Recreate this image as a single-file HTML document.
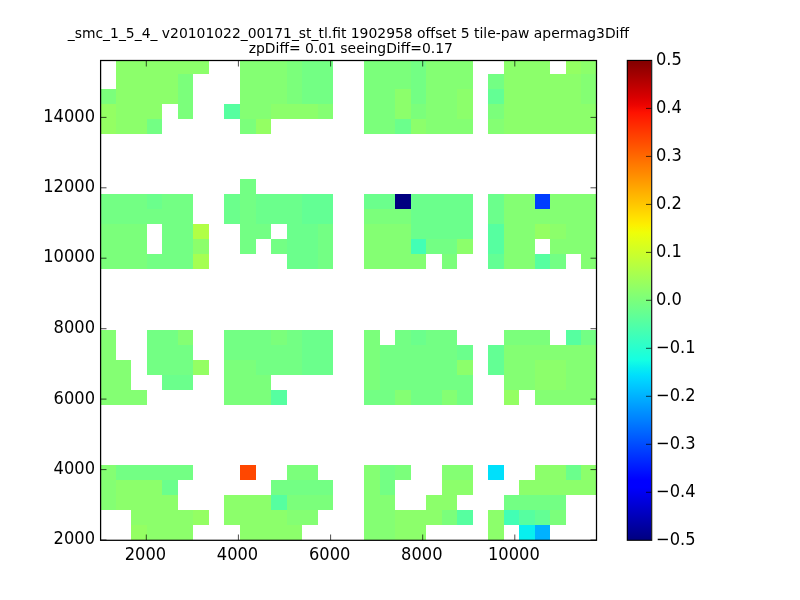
<!DOCTYPE html>
<html><head><meta charset="utf-8"><title>plot</title>
<style>
html,body{margin:0;padding:0;background:#fff;}
body{width:800px;height:600px;overflow:hidden;position:relative;font-family:"DejaVu Sans","Liberation Sans",sans-serif;}
svg{position:absolute;left:0;top:0;}
.tk{font-size:17.7px;fill:#000;}
.tt{font-size:13.9px;fill:#000;}
text{font-family:"DejaVu Sans","Liberation Sans",sans-serif;}
</style></head><body>
<svg width="800" height="600" viewBox="0 0 800 600">
<defs><linearGradient id="jet" x1="0" y1="0" x2="0" y2="1">
<stop offset="0.0000" stop-color="#800000"/>
<stop offset="0.0156" stop-color="#920000"/>
<stop offset="0.0312" stop-color="#a40000"/>
<stop offset="0.0469" stop-color="#b60000"/>
<stop offset="0.0625" stop-color="#c80000"/>
<stop offset="0.0781" stop-color="#da0000"/>
<stop offset="0.0938" stop-color="#ec0400"/>
<stop offset="0.1094" stop-color="#fe1200"/>
<stop offset="0.1250" stop-color="#ff2100"/>
<stop offset="0.1406" stop-color="#ff3000"/>
<stop offset="0.1562" stop-color="#ff3f00"/>
<stop offset="0.1719" stop-color="#ff4d00"/>
<stop offset="0.1875" stop-color="#ff5c00"/>
<stop offset="0.2031" stop-color="#ff6b00"/>
<stop offset="0.2188" stop-color="#ff7a00"/>
<stop offset="0.2344" stop-color="#ff8800"/>
<stop offset="0.2500" stop-color="#ff9700"/>
<stop offset="0.2656" stop-color="#ffa600"/>
<stop offset="0.2812" stop-color="#ffb500"/>
<stop offset="0.2969" stop-color="#ffc300"/>
<stop offset="0.3125" stop-color="#ffd200"/>
<stop offset="0.3281" stop-color="#ffe100"/>
<stop offset="0.3438" stop-color="#fcf000"/>
<stop offset="0.3594" stop-color="#effe08"/>
<stop offset="0.3750" stop-color="#e2ff15"/>
<stop offset="0.3906" stop-color="#d5ff21"/>
<stop offset="0.4062" stop-color="#c9ff2e"/>
<stop offset="0.4219" stop-color="#bcff3b"/>
<stop offset="0.4375" stop-color="#afff48"/>
<stop offset="0.4531" stop-color="#a2ff55"/>
<stop offset="0.4688" stop-color="#95ff62"/>
<stop offset="0.4844" stop-color="#88ff6f"/>
<stop offset="0.5000" stop-color="#7bff7b"/>
<stop offset="0.5156" stop-color="#6fff88"/>
<stop offset="0.5312" stop-color="#62ff95"/>
<stop offset="0.5469" stop-color="#55ffa2"/>
<stop offset="0.5625" stop-color="#48ffaf"/>
<stop offset="0.5781" stop-color="#3bffbc"/>
<stop offset="0.5938" stop-color="#2effc9"/>
<stop offset="0.6094" stop-color="#21ffd5"/>
<stop offset="0.6250" stop-color="#15ffe2"/>
<stop offset="0.6406" stop-color="#08efef"/>
<stop offset="0.6562" stop-color="#00dffc"/>
<stop offset="0.6719" stop-color="#00cfff"/>
<stop offset="0.6875" stop-color="#00bfff"/>
<stop offset="0.7031" stop-color="#00afff"/>
<stop offset="0.7188" stop-color="#009fff"/>
<stop offset="0.7344" stop-color="#008fff"/>
<stop offset="0.7500" stop-color="#0080ff"/>
<stop offset="0.7656" stop-color="#0070ff"/>
<stop offset="0.7812" stop-color="#0060ff"/>
<stop offset="0.7969" stop-color="#0050ff"/>
<stop offset="0.8125" stop-color="#0040ff"/>
<stop offset="0.8281" stop-color="#0030ff"/>
<stop offset="0.8438" stop-color="#0020ff"/>
<stop offset="0.8594" stop-color="#0010ff"/>
<stop offset="0.8750" stop-color="#0000ff"/>
<stop offset="0.8906" stop-color="#0000fe"/>
<stop offset="0.9062" stop-color="#0000ec"/>
<stop offset="0.9219" stop-color="#0000da"/>
<stop offset="0.9375" stop-color="#0000c8"/>
<stop offset="0.9531" stop-color="#0000b6"/>
<stop offset="0.9688" stop-color="#0000a4"/>
<stop offset="0.9844" stop-color="#000092"/>
<stop offset="1.0000" stop-color="#000080"/>
</linearGradient></defs>
<rect x="0" y="0" width="800" height="600" fill="#ffffff"/>
<clipPath id="ax"><rect x="100.6" y="60.5" width="495.9" height="479.8"/></clipPath>
<g shape-rendering="crispEdges" clip-path="url(#ax)">
<rect x="115.91" y="60.00" width="15.51" height="13.94" fill="#8cff6b"/>
<rect x="131.42" y="60.00" width="15.51" height="13.94" fill="#8cff6b"/>
<rect x="146.93" y="60.00" width="15.51" height="13.94" fill="#8cff6b"/>
<rect x="162.44" y="60.00" width="15.51" height="13.94" fill="#8cff6b"/>
<rect x="177.95" y="60.00" width="15.51" height="13.94" fill="#8cff6b"/>
<rect x="193.46" y="60.00" width="15.51" height="13.94" fill="#8cff6b"/>
<rect x="239.99" y="60.00" width="15.51" height="13.94" fill="#84ff73"/>
<rect x="255.50" y="60.00" width="15.51" height="13.94" fill="#84ff73"/>
<rect x="271.01" y="60.00" width="15.51" height="13.94" fill="#84ff73"/>
<rect x="286.52" y="60.00" width="15.51" height="13.94" fill="#7bff7b"/>
<rect x="302.03" y="60.00" width="15.51" height="13.94" fill="#73ff84"/>
<rect x="317.54" y="60.00" width="15.51" height="13.94" fill="#73ff84"/>
<rect x="364.07" y="60.00" width="15.51" height="13.94" fill="#7bff7b"/>
<rect x="379.58" y="60.00" width="15.51" height="13.94" fill="#7bff7b"/>
<rect x="395.09" y="60.00" width="15.51" height="13.94" fill="#7bff7b"/>
<rect x="410.60" y="60.00" width="15.51" height="13.94" fill="#73ff84"/>
<rect x="426.11" y="60.00" width="15.51" height="13.94" fill="#84ff73"/>
<rect x="441.62" y="60.00" width="15.51" height="13.94" fill="#84ff73"/>
<rect x="457.13" y="60.00" width="15.51" height="13.94" fill="#84ff73"/>
<rect x="503.66" y="60.00" width="15.51" height="13.94" fill="#8cff6b"/>
<rect x="519.17" y="60.00" width="15.51" height="13.94" fill="#8cff6b"/>
<rect x="534.68" y="60.00" width="15.51" height="13.94" fill="#8cff6b"/>
<rect x="565.70" y="60.00" width="15.51" height="13.94" fill="#94ff63"/>
<rect x="581.21" y="60.00" width="15.51" height="13.94" fill="#8cff6b"/>
<rect x="115.91" y="73.94" width="15.51" height="15.04" fill="#8cff6b"/>
<rect x="131.42" y="73.94" width="15.51" height="15.04" fill="#8cff6b"/>
<rect x="146.93" y="73.94" width="15.51" height="15.04" fill="#8cff6b"/>
<rect x="162.44" y="73.94" width="15.51" height="15.04" fill="#8cff6b"/>
<rect x="177.95" y="73.94" width="15.51" height="15.04" fill="#7bff7b"/>
<rect x="239.99" y="73.94" width="15.51" height="15.04" fill="#84ff73"/>
<rect x="255.50" y="73.94" width="15.51" height="15.04" fill="#84ff73"/>
<rect x="271.01" y="73.94" width="15.51" height="15.04" fill="#84ff73"/>
<rect x="286.52" y="73.94" width="15.51" height="15.04" fill="#7bff7b"/>
<rect x="302.03" y="73.94" width="15.51" height="15.04" fill="#73ff84"/>
<rect x="317.54" y="73.94" width="15.51" height="15.04" fill="#73ff84"/>
<rect x="364.07" y="73.94" width="15.51" height="15.04" fill="#7bff7b"/>
<rect x="379.58" y="73.94" width="15.51" height="15.04" fill="#7bff7b"/>
<rect x="395.09" y="73.94" width="15.51" height="15.04" fill="#7bff7b"/>
<rect x="410.60" y="73.94" width="15.51" height="15.04" fill="#73ff84"/>
<rect x="426.11" y="73.94" width="15.51" height="15.04" fill="#84ff73"/>
<rect x="441.62" y="73.94" width="15.51" height="15.04" fill="#84ff73"/>
<rect x="457.13" y="73.94" width="15.51" height="15.04" fill="#84ff73"/>
<rect x="488.15" y="73.94" width="15.51" height="15.04" fill="#73ff84"/>
<rect x="503.66" y="73.94" width="15.51" height="15.04" fill="#8cff6b"/>
<rect x="519.17" y="73.94" width="15.51" height="15.04" fill="#8cff6b"/>
<rect x="534.68" y="73.94" width="15.51" height="15.04" fill="#8cff6b"/>
<rect x="550.19" y="73.94" width="15.51" height="15.04" fill="#8cff6b"/>
<rect x="565.70" y="73.94" width="15.51" height="15.04" fill="#8cff6b"/>
<rect x="581.21" y="73.94" width="15.51" height="15.04" fill="#84ff73"/>
<rect x="100.40" y="88.98" width="15.51" height="15.04" fill="#7bff7b"/>
<rect x="115.91" y="88.98" width="15.51" height="15.04" fill="#8cff6b"/>
<rect x="131.42" y="88.98" width="15.51" height="15.04" fill="#8cff6b"/>
<rect x="146.93" y="88.98" width="15.51" height="15.04" fill="#8cff6b"/>
<rect x="162.44" y="88.98" width="15.51" height="15.04" fill="#8cff6b"/>
<rect x="177.95" y="88.98" width="15.51" height="15.04" fill="#7bff7b"/>
<rect x="239.99" y="88.98" width="15.51" height="15.04" fill="#84ff73"/>
<rect x="255.50" y="88.98" width="15.51" height="15.04" fill="#84ff73"/>
<rect x="271.01" y="88.98" width="15.51" height="15.04" fill="#84ff73"/>
<rect x="286.52" y="88.98" width="15.51" height="15.04" fill="#7bff7b"/>
<rect x="302.03" y="88.98" width="15.51" height="15.04" fill="#73ff84"/>
<rect x="317.54" y="88.98" width="15.51" height="15.04" fill="#73ff84"/>
<rect x="364.07" y="88.98" width="15.51" height="15.04" fill="#7bff7b"/>
<rect x="379.58" y="88.98" width="15.51" height="15.04" fill="#7bff7b"/>
<rect x="395.09" y="88.98" width="15.51" height="15.04" fill="#8cff6b"/>
<rect x="410.60" y="88.98" width="15.51" height="15.04" fill="#73ff84"/>
<rect x="426.11" y="88.98" width="15.51" height="15.04" fill="#84ff73"/>
<rect x="441.62" y="88.98" width="15.51" height="15.04" fill="#84ff73"/>
<rect x="457.13" y="88.98" width="15.51" height="15.04" fill="#8cff6b"/>
<rect x="488.15" y="88.98" width="15.51" height="15.04" fill="#63ff94"/>
<rect x="503.66" y="88.98" width="15.51" height="15.04" fill="#8cff6b"/>
<rect x="519.17" y="88.98" width="15.51" height="15.04" fill="#8cff6b"/>
<rect x="534.68" y="88.98" width="15.51" height="15.04" fill="#8cff6b"/>
<rect x="550.19" y="88.98" width="15.51" height="15.04" fill="#8cff6b"/>
<rect x="565.70" y="88.98" width="15.51" height="15.04" fill="#8cff6b"/>
<rect x="581.21" y="88.98" width="15.51" height="15.04" fill="#84ff73"/>
<rect x="100.40" y="104.02" width="15.51" height="15.04" fill="#94ff63"/>
<rect x="115.91" y="104.02" width="15.51" height="15.04" fill="#8cff6b"/>
<rect x="131.42" y="104.02" width="15.51" height="15.04" fill="#8cff6b"/>
<rect x="146.93" y="104.02" width="15.51" height="15.04" fill="#8cff6b"/>
<rect x="177.95" y="104.02" width="15.51" height="15.04" fill="#7bff7b"/>
<rect x="224.48" y="104.02" width="15.51" height="15.04" fill="#56ffa0"/>
<rect x="239.99" y="104.02" width="15.51" height="15.04" fill="#84ff73"/>
<rect x="255.50" y="104.02" width="15.51" height="15.04" fill="#84ff73"/>
<rect x="271.01" y="104.02" width="15.51" height="15.04" fill="#8cff6b"/>
<rect x="286.52" y="104.02" width="15.51" height="15.04" fill="#8cff6b"/>
<rect x="302.03" y="104.02" width="15.51" height="15.04" fill="#8cff6b"/>
<rect x="317.54" y="104.02" width="15.51" height="15.04" fill="#84ff73"/>
<rect x="364.07" y="104.02" width="15.51" height="15.04" fill="#7bff7b"/>
<rect x="379.58" y="104.02" width="15.51" height="15.04" fill="#7bff7b"/>
<rect x="395.09" y="104.02" width="15.51" height="15.04" fill="#8cff6b"/>
<rect x="410.60" y="104.02" width="15.51" height="15.04" fill="#7bff7b"/>
<rect x="426.11" y="104.02" width="15.51" height="15.04" fill="#84ff73"/>
<rect x="441.62" y="104.02" width="15.51" height="15.04" fill="#84ff73"/>
<rect x="457.13" y="104.02" width="15.51" height="15.04" fill="#8cff6b"/>
<rect x="488.15" y="104.02" width="15.51" height="15.04" fill="#7bff7b"/>
<rect x="503.66" y="104.02" width="15.51" height="15.04" fill="#8cff6b"/>
<rect x="519.17" y="104.02" width="15.51" height="15.04" fill="#8cff6b"/>
<rect x="534.68" y="104.02" width="15.51" height="15.04" fill="#8cff6b"/>
<rect x="550.19" y="104.02" width="15.51" height="15.04" fill="#8cff6b"/>
<rect x="565.70" y="104.02" width="15.51" height="15.04" fill="#8cff6b"/>
<rect x="581.21" y="104.02" width="15.51" height="15.04" fill="#8cff6b"/>
<rect x="100.40" y="119.06" width="15.51" height="15.04" fill="#94ff63"/>
<rect x="115.91" y="119.06" width="15.51" height="15.04" fill="#8cff6b"/>
<rect x="131.42" y="119.06" width="15.51" height="15.04" fill="#8cff6b"/>
<rect x="146.93" y="119.06" width="15.51" height="15.04" fill="#73ff84"/>
<rect x="239.99" y="119.06" width="15.51" height="15.04" fill="#7bff7b"/>
<rect x="255.50" y="119.06" width="15.51" height="15.04" fill="#94ff63"/>
<rect x="364.07" y="119.06" width="15.51" height="15.04" fill="#7bff7b"/>
<rect x="379.58" y="119.06" width="15.51" height="15.04" fill="#7bff7b"/>
<rect x="395.09" y="119.06" width="15.51" height="15.04" fill="#6bff8c"/>
<rect x="410.60" y="119.06" width="15.51" height="15.04" fill="#8cff6b"/>
<rect x="426.11" y="119.06" width="15.51" height="15.04" fill="#84ff73"/>
<rect x="441.62" y="119.06" width="15.51" height="15.04" fill="#84ff73"/>
<rect x="457.13" y="119.06" width="15.51" height="15.04" fill="#84ff73"/>
<rect x="488.15" y="119.06" width="15.51" height="15.04" fill="#84ff73"/>
<rect x="503.66" y="119.06" width="15.51" height="15.04" fill="#8cff6b"/>
<rect x="519.17" y="119.06" width="15.51" height="15.04" fill="#8cff6b"/>
<rect x="534.68" y="119.06" width="15.51" height="15.04" fill="#8cff6b"/>
<rect x="550.19" y="119.06" width="15.51" height="15.04" fill="#8cff6b"/>
<rect x="565.70" y="119.06" width="15.51" height="15.04" fill="#8cff6b"/>
<rect x="581.21" y="119.06" width="15.51" height="15.04" fill="#8cff6b"/>
<rect x="239.99" y="179.22" width="15.51" height="15.04" fill="#73ff84"/>
<rect x="100.40" y="194.26" width="15.51" height="15.04" fill="#73ff84"/>
<rect x="115.91" y="194.26" width="15.51" height="15.04" fill="#73ff84"/>
<rect x="131.42" y="194.26" width="15.51" height="15.04" fill="#73ff84"/>
<rect x="146.93" y="194.26" width="15.51" height="15.04" fill="#6bff8c"/>
<rect x="162.44" y="194.26" width="15.51" height="15.04" fill="#73ff84"/>
<rect x="177.95" y="194.26" width="15.51" height="15.04" fill="#73ff84"/>
<rect x="224.48" y="194.26" width="15.51" height="15.04" fill="#6bff8c"/>
<rect x="239.99" y="194.26" width="15.51" height="15.04" fill="#73ff84"/>
<rect x="255.50" y="194.26" width="15.51" height="15.04" fill="#6bff8c"/>
<rect x="271.01" y="194.26" width="15.51" height="15.04" fill="#6bff8c"/>
<rect x="286.52" y="194.26" width="15.51" height="15.04" fill="#6bff8c"/>
<rect x="302.03" y="194.26" width="15.51" height="15.04" fill="#63ff94"/>
<rect x="317.54" y="194.26" width="15.51" height="15.04" fill="#63ff94"/>
<rect x="364.07" y="194.26" width="15.51" height="15.04" fill="#6bff8c"/>
<rect x="379.58" y="194.26" width="15.51" height="15.04" fill="#6bff8c"/>
<rect x="395.09" y="194.26" width="15.51" height="15.04" fill="#000080"/>
<rect x="410.60" y="194.26" width="15.51" height="15.04" fill="#6bff8c"/>
<rect x="426.11" y="194.26" width="15.51" height="15.04" fill="#6bff8c"/>
<rect x="441.62" y="194.26" width="15.51" height="15.04" fill="#6bff8c"/>
<rect x="457.13" y="194.26" width="15.51" height="15.04" fill="#6bff8c"/>
<rect x="488.15" y="194.26" width="15.51" height="15.04" fill="#6bff8c"/>
<rect x="503.66" y="194.26" width="15.51" height="15.04" fill="#84ff73"/>
<rect x="519.17" y="194.26" width="15.51" height="15.04" fill="#84ff73"/>
<rect x="534.68" y="194.26" width="15.51" height="15.04" fill="#003dff"/>
<rect x="550.19" y="194.26" width="15.51" height="15.04" fill="#84ff73"/>
<rect x="565.70" y="194.26" width="15.51" height="15.04" fill="#84ff73"/>
<rect x="581.21" y="194.26" width="15.51" height="15.04" fill="#84ff73"/>
<rect x="100.40" y="209.30" width="15.51" height="15.04" fill="#73ff84"/>
<rect x="115.91" y="209.30" width="15.51" height="15.04" fill="#73ff84"/>
<rect x="131.42" y="209.30" width="15.51" height="15.04" fill="#73ff84"/>
<rect x="146.93" y="209.30" width="15.51" height="15.04" fill="#73ff84"/>
<rect x="162.44" y="209.30" width="15.51" height="15.04" fill="#73ff84"/>
<rect x="177.95" y="209.30" width="15.51" height="15.04" fill="#73ff84"/>
<rect x="224.48" y="209.30" width="15.51" height="15.04" fill="#6bff8c"/>
<rect x="239.99" y="209.30" width="15.51" height="15.04" fill="#73ff84"/>
<rect x="255.50" y="209.30" width="15.51" height="15.04" fill="#6bff8c"/>
<rect x="271.01" y="209.30" width="15.51" height="15.04" fill="#6bff8c"/>
<rect x="286.52" y="209.30" width="15.51" height="15.04" fill="#6bff8c"/>
<rect x="302.03" y="209.30" width="15.51" height="15.04" fill="#63ff94"/>
<rect x="317.54" y="209.30" width="15.51" height="15.04" fill="#63ff94"/>
<rect x="364.07" y="209.30" width="15.51" height="15.04" fill="#7bff7b"/>
<rect x="379.58" y="209.30" width="15.51" height="15.04" fill="#7bff7b"/>
<rect x="395.09" y="209.30" width="15.51" height="15.04" fill="#7bff7b"/>
<rect x="410.60" y="209.30" width="15.51" height="15.04" fill="#6bff8c"/>
<rect x="426.11" y="209.30" width="15.51" height="15.04" fill="#6bff8c"/>
<rect x="441.62" y="209.30" width="15.51" height="15.04" fill="#6bff8c"/>
<rect x="457.13" y="209.30" width="15.51" height="15.04" fill="#6bff8c"/>
<rect x="488.15" y="209.30" width="15.51" height="15.04" fill="#6bff8c"/>
<rect x="503.66" y="209.30" width="15.51" height="15.04" fill="#84ff73"/>
<rect x="519.17" y="209.30" width="15.51" height="15.04" fill="#84ff73"/>
<rect x="534.68" y="209.30" width="15.51" height="15.04" fill="#84ff73"/>
<rect x="550.19" y="209.30" width="15.51" height="15.04" fill="#84ff73"/>
<rect x="565.70" y="209.30" width="15.51" height="15.04" fill="#84ff73"/>
<rect x="581.21" y="209.30" width="15.51" height="15.04" fill="#84ff73"/>
<rect x="100.40" y="224.34" width="15.51" height="15.04" fill="#7bff7b"/>
<rect x="115.91" y="224.34" width="15.51" height="15.04" fill="#7bff7b"/>
<rect x="131.42" y="224.34" width="15.51" height="15.04" fill="#7bff7b"/>
<rect x="162.44" y="224.34" width="15.51" height="15.04" fill="#73ff84"/>
<rect x="177.95" y="224.34" width="15.51" height="15.04" fill="#73ff84"/>
<rect x="193.46" y="224.34" width="15.51" height="15.04" fill="#b1ff46"/>
<rect x="239.99" y="224.34" width="15.51" height="15.04" fill="#73ff84"/>
<rect x="255.50" y="224.34" width="15.51" height="15.04" fill="#73ff84"/>
<rect x="286.52" y="224.34" width="15.51" height="15.04" fill="#6bff8c"/>
<rect x="302.03" y="224.34" width="15.51" height="15.04" fill="#6bff8c"/>
<rect x="317.54" y="224.34" width="15.51" height="15.04" fill="#73ff84"/>
<rect x="364.07" y="224.34" width="15.51" height="15.04" fill="#84ff73"/>
<rect x="379.58" y="224.34" width="15.51" height="15.04" fill="#84ff73"/>
<rect x="395.09" y="224.34" width="15.51" height="15.04" fill="#84ff73"/>
<rect x="410.60" y="224.34" width="15.51" height="15.04" fill="#6bff8c"/>
<rect x="426.11" y="224.34" width="15.51" height="15.04" fill="#6bff8c"/>
<rect x="441.62" y="224.34" width="15.51" height="15.04" fill="#6bff8c"/>
<rect x="457.13" y="224.34" width="15.51" height="15.04" fill="#6bff8c"/>
<rect x="488.15" y="224.34" width="15.51" height="15.04" fill="#56ffa0"/>
<rect x="503.66" y="224.34" width="15.51" height="15.04" fill="#84ff73"/>
<rect x="519.17" y="224.34" width="15.51" height="15.04" fill="#84ff73"/>
<rect x="534.68" y="224.34" width="15.51" height="15.04" fill="#94ff63"/>
<rect x="550.19" y="224.34" width="15.51" height="15.04" fill="#8cff6b"/>
<rect x="565.70" y="224.34" width="15.51" height="15.04" fill="#84ff73"/>
<rect x="581.21" y="224.34" width="15.51" height="15.04" fill="#84ff73"/>
<rect x="100.40" y="239.38" width="15.51" height="15.04" fill="#7bff7b"/>
<rect x="115.91" y="239.38" width="15.51" height="15.04" fill="#7bff7b"/>
<rect x="131.42" y="239.38" width="15.51" height="15.04" fill="#7bff7b"/>
<rect x="162.44" y="239.38" width="15.51" height="15.04" fill="#73ff84"/>
<rect x="177.95" y="239.38" width="15.51" height="15.04" fill="#73ff84"/>
<rect x="193.46" y="239.38" width="15.51" height="15.04" fill="#8cff6b"/>
<rect x="239.99" y="239.38" width="15.51" height="15.04" fill="#73ff84"/>
<rect x="271.01" y="239.38" width="15.51" height="15.04" fill="#73ff84"/>
<rect x="286.52" y="239.38" width="15.51" height="15.04" fill="#6bff8c"/>
<rect x="302.03" y="239.38" width="15.51" height="15.04" fill="#6bff8c"/>
<rect x="317.54" y="239.38" width="15.51" height="15.04" fill="#73ff84"/>
<rect x="364.07" y="239.38" width="15.51" height="15.04" fill="#84ff73"/>
<rect x="379.58" y="239.38" width="15.51" height="15.04" fill="#84ff73"/>
<rect x="395.09" y="239.38" width="15.51" height="15.04" fill="#84ff73"/>
<rect x="410.60" y="239.38" width="15.51" height="15.04" fill="#42ffb5"/>
<rect x="426.11" y="239.38" width="15.51" height="15.04" fill="#73ff84"/>
<rect x="441.62" y="239.38" width="15.51" height="15.04" fill="#73ff84"/>
<rect x="457.13" y="239.38" width="15.51" height="15.04" fill="#8cff6b"/>
<rect x="488.15" y="239.38" width="15.51" height="15.04" fill="#56ffa0"/>
<rect x="503.66" y="239.38" width="15.51" height="15.04" fill="#84ff73"/>
<rect x="519.17" y="239.38" width="15.51" height="15.04" fill="#84ff73"/>
<rect x="550.19" y="239.38" width="15.51" height="15.04" fill="#84ff73"/>
<rect x="565.70" y="239.38" width="15.51" height="15.04" fill="#84ff73"/>
<rect x="581.21" y="239.38" width="15.51" height="15.04" fill="#84ff73"/>
<rect x="100.40" y="254.42" width="15.51" height="15.04" fill="#7bff7b"/>
<rect x="115.91" y="254.42" width="15.51" height="15.04" fill="#7bff7b"/>
<rect x="131.42" y="254.42" width="15.51" height="15.04" fill="#7bff7b"/>
<rect x="146.93" y="254.42" width="15.51" height="15.04" fill="#73ff84"/>
<rect x="162.44" y="254.42" width="15.51" height="15.04" fill="#73ff84"/>
<rect x="177.95" y="254.42" width="15.51" height="15.04" fill="#73ff84"/>
<rect x="193.46" y="254.42" width="15.51" height="15.04" fill="#a5ff52"/>
<rect x="286.52" y="254.42" width="15.51" height="15.04" fill="#6bff8c"/>
<rect x="302.03" y="254.42" width="15.51" height="15.04" fill="#6bff8c"/>
<rect x="317.54" y="254.42" width="15.51" height="15.04" fill="#73ff84"/>
<rect x="364.07" y="254.42" width="15.51" height="15.04" fill="#84ff73"/>
<rect x="379.58" y="254.42" width="15.51" height="15.04" fill="#84ff73"/>
<rect x="395.09" y="254.42" width="15.51" height="15.04" fill="#84ff73"/>
<rect x="410.60" y="254.42" width="15.51" height="15.04" fill="#84ff73"/>
<rect x="441.62" y="254.42" width="15.51" height="15.04" fill="#7bff7b"/>
<rect x="488.15" y="254.42" width="15.51" height="15.04" fill="#63ff94"/>
<rect x="503.66" y="254.42" width="15.51" height="15.04" fill="#84ff73"/>
<rect x="519.17" y="254.42" width="15.51" height="15.04" fill="#84ff73"/>
<rect x="534.68" y="254.42" width="15.51" height="15.04" fill="#56ffa0"/>
<rect x="550.19" y="254.42" width="15.51" height="15.04" fill="#73ff84"/>
<rect x="581.21" y="254.42" width="15.51" height="15.04" fill="#84ff73"/>
<rect x="100.40" y="329.62" width="15.51" height="15.04" fill="#84ff73"/>
<rect x="146.93" y="329.62" width="15.51" height="15.04" fill="#73ff84"/>
<rect x="162.44" y="329.62" width="15.51" height="15.04" fill="#73ff84"/>
<rect x="177.95" y="329.62" width="15.51" height="15.04" fill="#84ff73"/>
<rect x="224.48" y="329.62" width="15.51" height="15.04" fill="#73ff84"/>
<rect x="239.99" y="329.62" width="15.51" height="15.04" fill="#73ff84"/>
<rect x="255.50" y="329.62" width="15.51" height="15.04" fill="#73ff84"/>
<rect x="271.01" y="329.62" width="15.51" height="15.04" fill="#7bff7b"/>
<rect x="286.52" y="329.62" width="15.51" height="15.04" fill="#73ff84"/>
<rect x="302.03" y="329.62" width="15.51" height="15.04" fill="#6bff8c"/>
<rect x="317.54" y="329.62" width="15.51" height="15.04" fill="#6bff8c"/>
<rect x="364.07" y="329.62" width="15.51" height="15.04" fill="#7bff7b"/>
<rect x="395.09" y="329.62" width="15.51" height="15.04" fill="#73ff84"/>
<rect x="410.60" y="329.62" width="15.51" height="15.04" fill="#6bff8c"/>
<rect x="426.11" y="329.62" width="15.51" height="15.04" fill="#73ff84"/>
<rect x="441.62" y="329.62" width="15.51" height="15.04" fill="#73ff84"/>
<rect x="503.66" y="329.62" width="15.51" height="15.04" fill="#7bff7b"/>
<rect x="519.17" y="329.62" width="15.51" height="15.04" fill="#7bff7b"/>
<rect x="534.68" y="329.62" width="15.51" height="15.04" fill="#7bff7b"/>
<rect x="565.70" y="329.62" width="15.51" height="15.04" fill="#56ffa0"/>
<rect x="581.21" y="329.62" width="15.51" height="15.04" fill="#73ff84"/>
<rect x="100.40" y="344.66" width="15.51" height="15.04" fill="#84ff73"/>
<rect x="146.93" y="344.66" width="15.51" height="15.04" fill="#73ff84"/>
<rect x="162.44" y="344.66" width="15.51" height="15.04" fill="#73ff84"/>
<rect x="177.95" y="344.66" width="15.51" height="15.04" fill="#73ff84"/>
<rect x="224.48" y="344.66" width="15.51" height="15.04" fill="#73ff84"/>
<rect x="239.99" y="344.66" width="15.51" height="15.04" fill="#73ff84"/>
<rect x="255.50" y="344.66" width="15.51" height="15.04" fill="#73ff84"/>
<rect x="271.01" y="344.66" width="15.51" height="15.04" fill="#73ff84"/>
<rect x="286.52" y="344.66" width="15.51" height="15.04" fill="#73ff84"/>
<rect x="302.03" y="344.66" width="15.51" height="15.04" fill="#6bff8c"/>
<rect x="317.54" y="344.66" width="15.51" height="15.04" fill="#6bff8c"/>
<rect x="364.07" y="344.66" width="15.51" height="15.04" fill="#7bff7b"/>
<rect x="379.58" y="344.66" width="15.51" height="15.04" fill="#73ff84"/>
<rect x="395.09" y="344.66" width="15.51" height="15.04" fill="#73ff84"/>
<rect x="410.60" y="344.66" width="15.51" height="15.04" fill="#73ff84"/>
<rect x="426.11" y="344.66" width="15.51" height="15.04" fill="#73ff84"/>
<rect x="441.62" y="344.66" width="15.51" height="15.04" fill="#73ff84"/>
<rect x="457.13" y="344.66" width="15.51" height="15.04" fill="#6bff8c"/>
<rect x="488.15" y="344.66" width="15.51" height="15.04" fill="#63ff94"/>
<rect x="503.66" y="344.66" width="15.51" height="15.04" fill="#84ff73"/>
<rect x="519.17" y="344.66" width="15.51" height="15.04" fill="#84ff73"/>
<rect x="534.68" y="344.66" width="15.51" height="15.04" fill="#84ff73"/>
<rect x="550.19" y="344.66" width="15.51" height="15.04" fill="#84ff73"/>
<rect x="565.70" y="344.66" width="15.51" height="15.04" fill="#84ff73"/>
<rect x="581.21" y="344.66" width="15.51" height="15.04" fill="#84ff73"/>
<rect x="100.40" y="359.70" width="15.51" height="15.04" fill="#84ff73"/>
<rect x="115.91" y="359.70" width="15.51" height="15.04" fill="#84ff73"/>
<rect x="146.93" y="359.70" width="15.51" height="15.04" fill="#73ff84"/>
<rect x="162.44" y="359.70" width="15.51" height="15.04" fill="#73ff84"/>
<rect x="177.95" y="359.70" width="15.51" height="15.04" fill="#73ff84"/>
<rect x="193.46" y="359.70" width="15.51" height="15.04" fill="#94ff63"/>
<rect x="224.48" y="359.70" width="15.51" height="15.04" fill="#7bff7b"/>
<rect x="239.99" y="359.70" width="15.51" height="15.04" fill="#7bff7b"/>
<rect x="255.50" y="359.70" width="15.51" height="15.04" fill="#73ff84"/>
<rect x="271.01" y="359.70" width="15.51" height="15.04" fill="#73ff84"/>
<rect x="286.52" y="359.70" width="15.51" height="15.04" fill="#73ff84"/>
<rect x="302.03" y="359.70" width="15.51" height="15.04" fill="#6bff8c"/>
<rect x="317.54" y="359.70" width="15.51" height="15.04" fill="#6bff8c"/>
<rect x="364.07" y="359.70" width="15.51" height="15.04" fill="#7bff7b"/>
<rect x="379.58" y="359.70" width="15.51" height="15.04" fill="#73ff84"/>
<rect x="395.09" y="359.70" width="15.51" height="15.04" fill="#73ff84"/>
<rect x="410.60" y="359.70" width="15.51" height="15.04" fill="#73ff84"/>
<rect x="426.11" y="359.70" width="15.51" height="15.04" fill="#73ff84"/>
<rect x="441.62" y="359.70" width="15.51" height="15.04" fill="#73ff84"/>
<rect x="457.13" y="359.70" width="15.51" height="15.04" fill="#8cff6b"/>
<rect x="488.15" y="359.70" width="15.51" height="15.04" fill="#63ff94"/>
<rect x="503.66" y="359.70" width="15.51" height="15.04" fill="#84ff73"/>
<rect x="519.17" y="359.70" width="15.51" height="15.04" fill="#84ff73"/>
<rect x="534.68" y="359.70" width="15.51" height="15.04" fill="#8cff6b"/>
<rect x="550.19" y="359.70" width="15.51" height="15.04" fill="#8cff6b"/>
<rect x="565.70" y="359.70" width="15.51" height="15.04" fill="#84ff73"/>
<rect x="581.21" y="359.70" width="15.51" height="15.04" fill="#84ff73"/>
<rect x="100.40" y="374.74" width="15.51" height="15.04" fill="#84ff73"/>
<rect x="115.91" y="374.74" width="15.51" height="15.04" fill="#84ff73"/>
<rect x="162.44" y="374.74" width="15.51" height="15.04" fill="#6bff8c"/>
<rect x="177.95" y="374.74" width="15.51" height="15.04" fill="#6bff8c"/>
<rect x="224.48" y="374.74" width="15.51" height="15.04" fill="#7bff7b"/>
<rect x="239.99" y="374.74" width="15.51" height="15.04" fill="#7bff7b"/>
<rect x="255.50" y="374.74" width="15.51" height="15.04" fill="#7bff7b"/>
<rect x="364.07" y="374.74" width="15.51" height="15.04" fill="#7bff7b"/>
<rect x="379.58" y="374.74" width="15.51" height="15.04" fill="#73ff84"/>
<rect x="395.09" y="374.74" width="15.51" height="15.04" fill="#73ff84"/>
<rect x="410.60" y="374.74" width="15.51" height="15.04" fill="#73ff84"/>
<rect x="426.11" y="374.74" width="15.51" height="15.04" fill="#73ff84"/>
<rect x="441.62" y="374.74" width="15.51" height="15.04" fill="#73ff84"/>
<rect x="457.13" y="374.74" width="15.51" height="15.04" fill="#73ff84"/>
<rect x="503.66" y="374.74" width="15.51" height="15.04" fill="#84ff73"/>
<rect x="519.17" y="374.74" width="15.51" height="15.04" fill="#84ff73"/>
<rect x="534.68" y="374.74" width="15.51" height="15.04" fill="#8cff6b"/>
<rect x="550.19" y="374.74" width="15.51" height="15.04" fill="#8cff6b"/>
<rect x="565.70" y="374.74" width="15.51" height="15.04" fill="#84ff73"/>
<rect x="581.21" y="374.74" width="15.51" height="15.04" fill="#84ff73"/>
<rect x="100.40" y="389.78" width="15.51" height="15.04" fill="#84ff73"/>
<rect x="115.91" y="389.78" width="15.51" height="15.04" fill="#84ff73"/>
<rect x="131.42" y="389.78" width="15.51" height="15.04" fill="#84ff73"/>
<rect x="224.48" y="389.78" width="15.51" height="15.04" fill="#7bff7b"/>
<rect x="239.99" y="389.78" width="15.51" height="15.04" fill="#7bff7b"/>
<rect x="255.50" y="389.78" width="15.51" height="15.04" fill="#7bff7b"/>
<rect x="271.01" y="389.78" width="15.51" height="15.04" fill="#56ffa0"/>
<rect x="364.07" y="389.78" width="15.51" height="15.04" fill="#73ff84"/>
<rect x="379.58" y="389.78" width="15.51" height="15.04" fill="#73ff84"/>
<rect x="395.09" y="389.78" width="15.51" height="15.04" fill="#84ff73"/>
<rect x="410.60" y="389.78" width="15.51" height="15.04" fill="#73ff84"/>
<rect x="426.11" y="389.78" width="15.51" height="15.04" fill="#73ff84"/>
<rect x="441.62" y="389.78" width="15.51" height="15.04" fill="#84ff73"/>
<rect x="457.13" y="389.78" width="15.51" height="15.04" fill="#73ff84"/>
<rect x="503.66" y="389.78" width="15.51" height="15.04" fill="#94ff63"/>
<rect x="534.68" y="389.78" width="15.51" height="15.04" fill="#84ff73"/>
<rect x="550.19" y="389.78" width="15.51" height="15.04" fill="#84ff73"/>
<rect x="565.70" y="389.78" width="15.51" height="15.04" fill="#84ff73"/>
<rect x="581.21" y="389.78" width="15.51" height="15.04" fill="#84ff73"/>
<rect x="100.40" y="464.98" width="15.51" height="15.04" fill="#84ff73"/>
<rect x="115.91" y="464.98" width="15.51" height="15.04" fill="#73ff84"/>
<rect x="131.42" y="464.98" width="15.51" height="15.04" fill="#73ff84"/>
<rect x="146.93" y="464.98" width="15.51" height="15.04" fill="#73ff84"/>
<rect x="162.44" y="464.98" width="15.51" height="15.04" fill="#73ff84"/>
<rect x="177.95" y="464.98" width="15.51" height="15.04" fill="#73ff84"/>
<rect x="239.99" y="464.98" width="15.51" height="15.04" fill="#ff4700"/>
<rect x="286.52" y="464.98" width="15.51" height="15.04" fill="#7bff7b"/>
<rect x="302.03" y="464.98" width="15.51" height="15.04" fill="#7bff7b"/>
<rect x="364.07" y="464.98" width="15.51" height="15.04" fill="#84ff73"/>
<rect x="379.58" y="464.98" width="15.51" height="15.04" fill="#73ff84"/>
<rect x="395.09" y="464.98" width="15.51" height="15.04" fill="#7bff7b"/>
<rect x="441.62" y="464.98" width="15.51" height="15.04" fill="#84ff73"/>
<rect x="457.13" y="464.98" width="15.51" height="15.04" fill="#84ff73"/>
<rect x="488.15" y="464.98" width="15.51" height="15.04" fill="#00e0fb"/>
<rect x="534.68" y="464.98" width="15.51" height="15.04" fill="#8cff6b"/>
<rect x="550.19" y="464.98" width="15.51" height="15.04" fill="#8cff6b"/>
<rect x="565.70" y="464.98" width="15.51" height="15.04" fill="#6bff8c"/>
<rect x="581.21" y="464.98" width="15.51" height="15.04" fill="#8cff6b"/>
<rect x="100.40" y="480.02" width="15.51" height="15.04" fill="#84ff73"/>
<rect x="115.91" y="480.02" width="15.51" height="15.04" fill="#8cff6b"/>
<rect x="131.42" y="480.02" width="15.51" height="15.04" fill="#8cff6b"/>
<rect x="146.93" y="480.02" width="15.51" height="15.04" fill="#8cff6b"/>
<rect x="162.44" y="480.02" width="15.51" height="15.04" fill="#6bff8c"/>
<rect x="271.01" y="480.02" width="15.51" height="15.04" fill="#73ff84"/>
<rect x="286.52" y="480.02" width="15.51" height="15.04" fill="#73ff84"/>
<rect x="302.03" y="480.02" width="15.51" height="15.04" fill="#73ff84"/>
<rect x="317.54" y="480.02" width="15.51" height="15.04" fill="#73ff84"/>
<rect x="364.07" y="480.02" width="15.51" height="15.04" fill="#84ff73"/>
<rect x="379.58" y="480.02" width="15.51" height="15.04" fill="#73ff84"/>
<rect x="441.62" y="480.02" width="15.51" height="15.04" fill="#8cff6b"/>
<rect x="457.13" y="480.02" width="15.51" height="15.04" fill="#8cff6b"/>
<rect x="519.17" y="480.02" width="15.51" height="15.04" fill="#8cff6b"/>
<rect x="534.68" y="480.02" width="15.51" height="15.04" fill="#8cff6b"/>
<rect x="550.19" y="480.02" width="15.51" height="15.04" fill="#8cff6b"/>
<rect x="565.70" y="480.02" width="15.51" height="15.04" fill="#8cff6b"/>
<rect x="581.21" y="480.02" width="15.51" height="15.04" fill="#8cff6b"/>
<rect x="100.40" y="495.06" width="15.51" height="15.04" fill="#84ff73"/>
<rect x="115.91" y="495.06" width="15.51" height="15.04" fill="#8cff6b"/>
<rect x="131.42" y="495.06" width="15.51" height="15.04" fill="#8cff6b"/>
<rect x="146.93" y="495.06" width="15.51" height="15.04" fill="#8cff6b"/>
<rect x="162.44" y="495.06" width="15.51" height="15.04" fill="#8cff6b"/>
<rect x="224.48" y="495.06" width="15.51" height="15.04" fill="#8cff6b"/>
<rect x="239.99" y="495.06" width="15.51" height="15.04" fill="#8cff6b"/>
<rect x="255.50" y="495.06" width="15.51" height="15.04" fill="#8cff6b"/>
<rect x="271.01" y="495.06" width="15.51" height="15.04" fill="#56ffa0"/>
<rect x="286.52" y="495.06" width="15.51" height="15.04" fill="#7bff7b"/>
<rect x="302.03" y="495.06" width="15.51" height="15.04" fill="#7bff7b"/>
<rect x="317.54" y="495.06" width="15.51" height="15.04" fill="#7bff7b"/>
<rect x="364.07" y="495.06" width="15.51" height="15.04" fill="#84ff73"/>
<rect x="379.58" y="495.06" width="15.51" height="15.04" fill="#84ff73"/>
<rect x="426.11" y="495.06" width="15.51" height="15.04" fill="#8cff6b"/>
<rect x="441.62" y="495.06" width="15.51" height="15.04" fill="#8cff6b"/>
<rect x="503.66" y="495.06" width="15.51" height="15.04" fill="#73ff84"/>
<rect x="519.17" y="495.06" width="15.51" height="15.04" fill="#73ff84"/>
<rect x="534.68" y="495.06" width="15.51" height="15.04" fill="#73ff84"/>
<rect x="550.19" y="495.06" width="15.51" height="15.04" fill="#73ff84"/>
<rect x="131.42" y="510.10" width="15.51" height="15.04" fill="#8cff6b"/>
<rect x="146.93" y="510.10" width="15.51" height="15.04" fill="#8cff6b"/>
<rect x="162.44" y="510.10" width="15.51" height="15.04" fill="#8cff6b"/>
<rect x="177.95" y="510.10" width="15.51" height="15.04" fill="#8cff6b"/>
<rect x="193.46" y="510.10" width="15.51" height="15.04" fill="#94ff63"/>
<rect x="224.48" y="510.10" width="15.51" height="15.04" fill="#8cff6b"/>
<rect x="239.99" y="510.10" width="15.51" height="15.04" fill="#8cff6b"/>
<rect x="255.50" y="510.10" width="15.51" height="15.04" fill="#8cff6b"/>
<rect x="271.01" y="510.10" width="15.51" height="15.04" fill="#8cff6b"/>
<rect x="286.52" y="510.10" width="15.51" height="15.04" fill="#84ff73"/>
<rect x="302.03" y="510.10" width="15.51" height="15.04" fill="#84ff73"/>
<rect x="364.07" y="510.10" width="15.51" height="15.04" fill="#84ff73"/>
<rect x="379.58" y="510.10" width="15.51" height="15.04" fill="#84ff73"/>
<rect x="395.09" y="510.10" width="15.51" height="15.04" fill="#8cff6b"/>
<rect x="410.60" y="510.10" width="15.51" height="15.04" fill="#8cff6b"/>
<rect x="426.11" y="510.10" width="15.51" height="15.04" fill="#8cff6b"/>
<rect x="441.62" y="510.10" width="15.51" height="15.04" fill="#7bff7b"/>
<rect x="457.13" y="510.10" width="15.51" height="15.04" fill="#56ffa0"/>
<rect x="488.15" y="510.10" width="15.51" height="15.04" fill="#8cff6b"/>
<rect x="503.66" y="510.10" width="15.51" height="15.04" fill="#42ffb5"/>
<rect x="519.17" y="510.10" width="15.51" height="15.04" fill="#56ffa0"/>
<rect x="534.68" y="510.10" width="15.51" height="15.04" fill="#63ff94"/>
<rect x="550.19" y="510.10" width="15.51" height="15.04" fill="#7bff7b"/>
<rect x="131.42" y="525.14" width="15.51" height="15.04" fill="#94ff63"/>
<rect x="146.93" y="525.14" width="15.51" height="15.04" fill="#8cff6b"/>
<rect x="162.44" y="525.14" width="15.51" height="15.04" fill="#8cff6b"/>
<rect x="177.95" y="525.14" width="15.51" height="15.04" fill="#8cff6b"/>
<rect x="239.99" y="525.14" width="15.51" height="15.04" fill="#8cff6b"/>
<rect x="255.50" y="525.14" width="15.51" height="15.04" fill="#8cff6b"/>
<rect x="271.01" y="525.14" width="15.51" height="15.04" fill="#8cff6b"/>
<rect x="286.52" y="525.14" width="15.51" height="15.04" fill="#8cff6b"/>
<rect x="364.07" y="525.14" width="15.51" height="15.04" fill="#84ff73"/>
<rect x="379.58" y="525.14" width="15.51" height="15.04" fill="#84ff73"/>
<rect x="395.09" y="525.14" width="15.51" height="15.04" fill="#8cff6b"/>
<rect x="410.60" y="525.14" width="15.51" height="15.04" fill="#8cff6b"/>
<rect x="488.15" y="525.14" width="15.51" height="15.04" fill="#8cff6b"/>
<rect x="519.17" y="525.14" width="15.51" height="15.04" fill="#08f0ef"/>
<rect x="534.68" y="525.14" width="15.51" height="15.04" fill="#00b2ff"/>
</g>
<rect x="627" y="60" width="24" height="480" fill="url(#jet)"/>
<g fill="none" stroke="#000" stroke-width="1.25">
<rect x="100.6" y="60.5" width="495.9" height="479.8"/>
<rect x="627.3" y="60.4" width="24.4" height="479.9" stroke-width="1.1"/>
</g>
<g fill="none" stroke="#000" stroke-width="0.7">
<path d="M146.3 540v-5.5M146.3 61v5.5"/>
<path d="M238.4 540v-5.5M238.4 61v5.5"/>
<path d="M330.6 540v-5.5M330.6 61v5.5"/>
<path d="M422.7 540v-5.5M422.7 61v5.5"/>
<path d="M514.8 540v-5.5M514.8 61v5.5"/>
<path d="M101 540.0h5.5M596 540.0h-5.5"/>
<path d="M101 469.6h5.5M596 469.6h-5.5"/>
<path d="M101 399.1h5.5M596 399.1h-5.5"/>
<path d="M101 328.7h5.5M596 328.7h-5.5"/>
<path d="M101 258.2h5.5M596 258.2h-5.5"/>
<path d="M101 187.8h5.5M596 187.8h-5.5"/>
<path d="M101 117.4h5.5M596 117.4h-5.5"/>
<path d="M651.5 492.3h-5.5"/>
<path d="M651.5 444.3h-5.5"/>
<path d="M651.5 396.3h-5.5"/>
<path d="M651.5 348.3h-5.5"/>
<path d="M651.5 300.3h-5.5"/>
<path d="M651.5 252.4h-5.5"/>
<path d="M651.5 204.4h-5.5"/>
<path d="M651.5 156.4h-5.5"/>
<path d="M651.5 108.4h-5.5"/>
</g>
<text x="348.4" y="38.1" text-anchor="middle" class="tt">_smc_1_5_4_ v20101022_00171_st_tl.fit 1902958 offset 5 tile-paw apermag3Diff</text>
<text x="350.8" y="52.5" text-anchor="middle" class="tt">zpDiff= 0.01 seeingDiff=0.17</text>
<text transform="translate(145.4,560) scale(0.92,1)" text-anchor="middle" class="tk">2000</text>
<text transform="translate(237.5,560) scale(0.92,1)" text-anchor="middle" class="tk">4000</text>
<text transform="translate(329.7,560) scale(0.92,1)" text-anchor="middle" class="tk">6000</text>
<text transform="translate(421.8,560) scale(0.92,1)" text-anchor="middle" class="tk">8000</text>
<text transform="translate(513.9,560) scale(0.92,1)" text-anchor="middle" class="tk">10000</text>
<text transform="translate(95,544.0) scale(0.92,1)" text-anchor="end" class="tk">2000</text>
<text transform="translate(95,474.2) scale(0.92,1)" text-anchor="end" class="tk">4000</text>
<text transform="translate(95,403.7) scale(0.92,1)" text-anchor="end" class="tk">6000</text>
<text transform="translate(95,333.2) scale(0.92,1)" text-anchor="end" class="tk">8000</text>
<text transform="translate(95,262.0) scale(0.92,1)" text-anchor="end" class="tk">10000</text>
<text transform="translate(95,192.1) scale(0.92,1)" text-anchor="end" class="tk">12000</text>
<text transform="translate(95,121.5) scale(0.92,1)" text-anchor="end" class="tk">14000</text>
<text transform="translate(656,544.8) scale(0.92,1)" class="tk">−0.5</text>
<text transform="translate(656,496.8) scale(0.92,1)" class="tk">−0.4</text>
<text transform="translate(656,448.8) scale(0.92,1)" class="tk">−0.3</text>
<text transform="translate(656,400.8) scale(0.92,1)" class="tk">−0.2</text>
<text transform="translate(656,352.8) scale(0.92,1)" class="tk">−0.1</text>
<text transform="translate(656,304.8) scale(0.92,1)" class="tk">0.0</text>
<text transform="translate(656,256.8) scale(0.92,1)" class="tk">0.1</text>
<text transform="translate(656,208.8) scale(0.92,1)" class="tk">0.2</text>
<text transform="translate(656,160.8) scale(0.92,1)" class="tk">0.3</text>
<text transform="translate(656,112.8) scale(0.92,1)" class="tk">0.4</text>
<text transform="translate(656,64.8) scale(0.92,1)" class="tk">0.5</text>
</svg>
</body></html>
